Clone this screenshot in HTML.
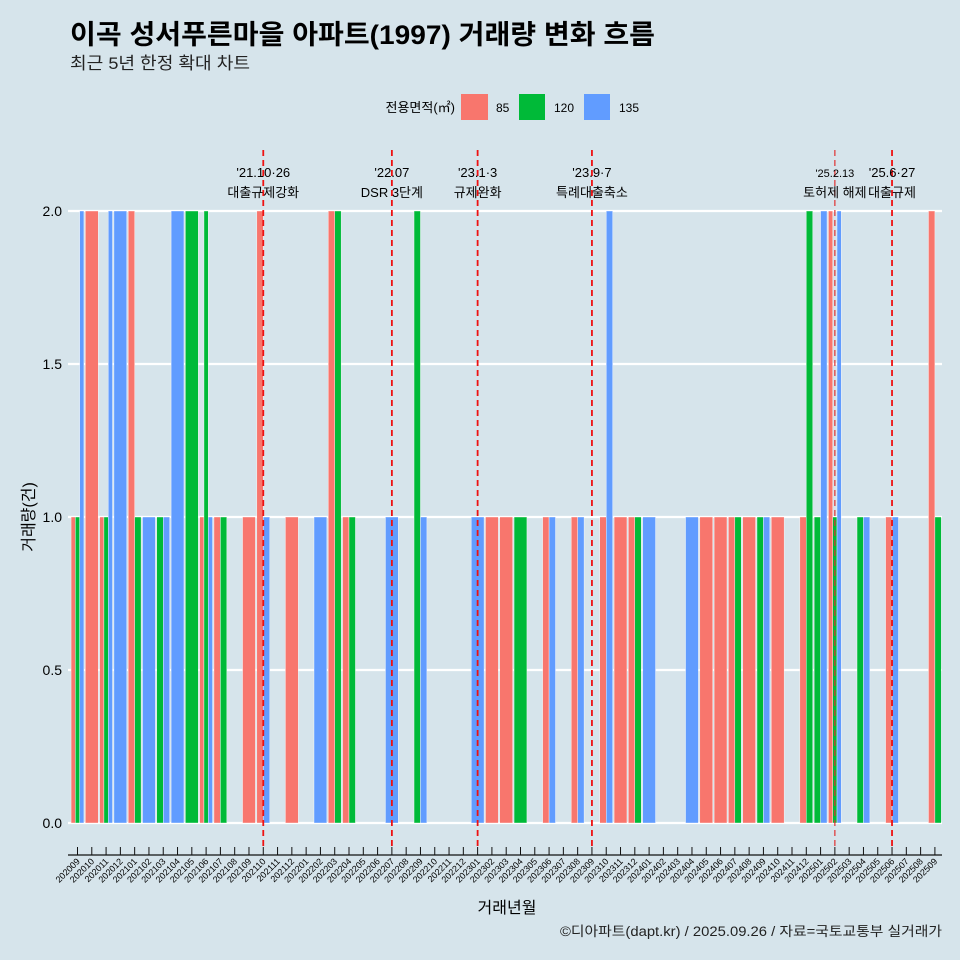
<!DOCTYPE html>
<html><head><meta charset="utf-8"><style>
body{margin:0;background:#d6e4eb;}
svg{display:block;font-family:"Liberation Sans","Noto Sans CJK KR",sans-serif;}
</style></head><body>
<svg id="c" width="960" height="960" viewBox="0 0 960 960">
<rect width="960" height="960" fill="#d6e4eb"/>
<text x="70" y="44" font-size="27" font-weight="bold" fill="#000" textLength="585" lengthAdjust="spacingAndGlyphs">이곡 성서푸른마을 아파트(1997) 거래량 변화 흐름</text>
<text x="70" y="69" font-size="17" fill="#222" textLength="180" lengthAdjust="spacingAndGlyphs">최근 5년 한정 확대 차트</text>
<g>
<text x="455" y="112" font-size="13" text-anchor="end">전용면적(㎡)</text>
<rect x="461" y="94" width="27" height="26" fill="#f8766d"/>
<text x="496" y="112" font-size="12">85</text>
<rect x="519" y="94" width="26" height="26" fill="#00ba38"/>
<text x="554" y="112" font-size="12">120</text>
<rect x="584" y="94" width="26" height="26" fill="#619cff"/>
<text x="619" y="112" font-size="12">135</text>
</g>
<g id="grid"></g><g id="bars"></g><g id="events"></g><g id="axes"></g>
<text x="507" y="913" font-size="16" text-anchor="middle">거래년월</text>
<text transform="translate(34,517) rotate(-90)" font-size="16" text-anchor="middle">거래량(건)</text>
<text x="942" y="936" font-size="13.5" text-anchor="end" fill="#222" textLength="382" lengthAdjust="spacingAndGlyphs">©디아파트(dapt.kr) / 2025.09.26 / 자료=국토교통부 실거래가</text>
</svg>
<script>
const months = [];
for (let y = 2020, m = 9; months.length < 61; ) { months.push(y + String(m).padStart(2, '0')); m++; if (m > 12) { m = 1; y++; } }
const v85  = [1,2,1,0,2,0,0,0,0,1,1,0,1,2,0,1,0,0,2,1,0,0,0,0,0,0,0,0,0,1,1,0,0,1,0,1,0,1,1,1,0,0,0,0,1,1,1,1,0,1,0,1,0,2,0,0,0,1,0,0,2];
const v120 = [1,0,1,0,1,0,1,0,2,2,1,0,0,0,0,0,0,0,2,1,0,0,0,0,2,0,0,0,0,0,0,1,0,0,0,0,0,0,0,1,0,0,0,0,0,0,1,0,1,0,0,2,1,1,0,1,0,0,0,0,1];
const v135 = [2,0,2,2,0,1,1,2,0,1,0,0,0,1,0,0,0,1,0,0,0,0,1,0,1,0,0,0,1,0,0,0,0,1,0,1,0,2,0,0,1,0,0,1,0,0,0,0,1,0,0,0,2,2,0,1,0,1,0,0,0];
const yTicks = [0, 0.5, 1, 1.5, 2];
const yTickLabels = ['0.0','0.5','1.0','1.5','2.0'];
const eventMonths = ['202110','202207','202301','202309','202502','202506'];
const eventLine1 = ["'21.10·26","'22.07","'23.1·3","'23.9·7","'25.2.13","'25.6·27"];
const eventLine2 = ['대출규제강화','DSR 3단계','규제완화','특례대출축소','토허제 해제','대출규제'];

const NS = 'http://www.w3.org/2000/svg';
const X0 = 77.5, DX = 14.29, Y0 = 823, PY = 306;
const xs = i => X0 + i * DX;
const ys = v => Y0 - v * PY;
function mk(tag, attrs, parent) { const e = document.createElementNS(NS, tag); for (const k in attrs) e.setAttribute(k, attrs[k]); document.getElementById(parent).appendChild(e); return e; }

yTicks.forEach((t, k) => {
  const g = mk('line', {x1: 68, x2: 942, y1: ys(t), y2: ys(t), stroke: '#fff', 'stroke-width': 2.2}, 'grid');
  
  
  const tl = mk('text', {x: 62, y: ys(t) + 5, 'font-size': 14, 'text-anchor': 'end'}, 'axes');
  tl.textContent = yTickLabels[k];
  
  
});

const series = [[v85, '#f8766d', '85'], [v120, '#00ba38', '120'], [v135, '#619cff', '135']];
const W = 0.9 * DX;
months.forEach((mo, i) => {
  const present = series.filter(s => s[0][i] > 0);
  const n = present.length; if (!n) return;
  const bw = W / n;
  present.forEach((s, j) => {
    const x = xs(i) - W / 2 + j * bw;
    const r = mk('rect', {x: x, y: ys(s[0][i]), width: bw, height: s[0][i] * PY, fill: s[1], stroke: '#fff', 'stroke-width': 0.4}, 'bars');
    
    
  });
});

eventMonths.forEach((em, k) => {
  const i = months.indexOf(em); const x = xs(i);
  const l = mk('line', {x1: x, x2: x, y1: 150, y2: 846, stroke: k === 4 ? '#e03030' : '#ee1111', 'stroke-width': k === 4 ? 1.2 : 1.8, 'stroke-dasharray': '6,4'}, 'events');
  
  
  const t1 = mk('text', {x: x, y: 177, 'font-size': k === 4 ? 11 : 13, 'text-anchor': 'middle'}, 'events');
  t1.textContent = eventLine1[k];
  
  
  const t2 = mk('text', {x: x, y: 197, 'font-size': 13, 'text-anchor': 'middle'}, 'events');
  t2.textContent = eventLine2[k];
  
  
});

const ax = mk('line', {x1: 68, x2: 942, y1: 855, y2: 855, stroke: '#111', 'stroke-width': 1.2}, 'axes');


months.forEach((mo, i) => {
  const x = xs(i);
  const tk = mk('line', {x1: x, x2: x, y1: 847, y2: 855, stroke: '#111', 'stroke-width': 1}, 'axes');
  
  
  const tl = mk('text', {x: x + 3, y: 862, 'font-size': 9, 'text-anchor': 'end', transform: 'rotate(-45 ' + (x + 3) + ' 862)'}, 'axes');
  tl.textContent = mo;
  
  
});
</script>
</body></html>
